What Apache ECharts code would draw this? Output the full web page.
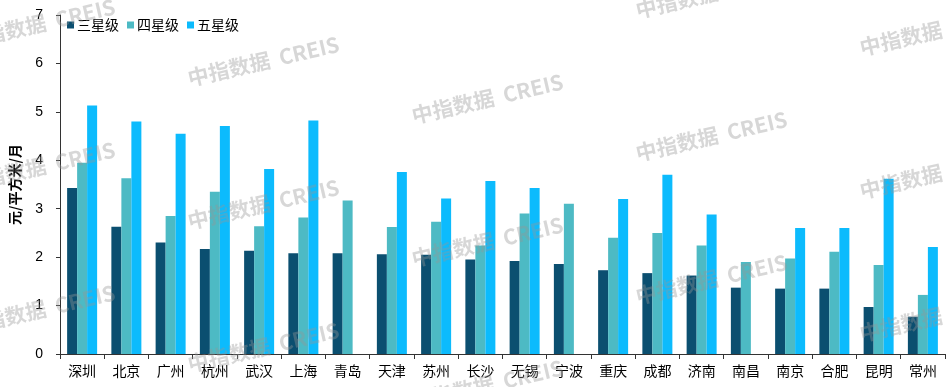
<!DOCTYPE html>
<html>
<head>
<meta charset="utf-8">
<script src="https://cdn.jsdelivr.net/npm/echarts@6/dist/echarts.min.js"></script>
<style>html,body{margin:0;padding:0;background:#fff;}#c{width:952px;height:387px;}</style>
</head>
<body>
<div id="c"></div>
<script>
var categories = ['深圳','北京','广州','杭州','武汉','上海','青岛','天津','苏州','长沙','无锡','宁波','重庆','成都','济南','南昌','南京','合肥','昆明','常州'];
var seriesNames = ['三星级','四星级','五星级'];
var threeStar = [3.43,2.63,2.30,2.17,2.13,2.08,2.08,2.06,2.05,1.95,1.92,1.86,1.73,1.67,1.62,1.37,1.35,1.35,0.97,0.77];
var fourStar  = [3.95,3.63,2.85,3.35,2.64,2.82,3.17,2.62,2.73,2.24,2.90,3.10,2.40,2.50,2.24,1.90,1.97,2.11,1.84,1.22];
var fiveStar  = [5.13,4.80,4.55,4.71,3.82,4.82,null,3.76,3.21,3.57,3.43,null,3.20,3.70,2.88,null,2.60,2.60,3.62,2.21];
var yTicks = [0,1,2,3,4,5,6,7];
var yName = '元/平方米/月';
var watermarkText = '中指数据  CREIS';

var colors = ['#0B4F70','#4DBAC4','#0CBBFD'];
var font = '"Liberation Sans", Arial, sans-serif';

// watermark grid (decoration)
var wm = [];
var angle = 13 * Math.PI / 180;
for (var c = 0; c < 5; c++) {
  for (var r = -1; r < 3; r++) {
    var x = -36 + c * 224;
    var y = 41 + c * 37.5 + r * 143;
    if (y < -40 || y > 430) continue;
    wm.push({
      type: 'text', x: x, y: y, rotation: angle, z: 100, silent: true,
      style: { text: watermarkText, fill: 'rgba(150,150,150,0.38)',
        font: 'bold 21px "Noto Sans CJK SC", "Noto Sans", sans-serif',
        textAlign: 'left', textVerticalAlign: 'middle' }
    });
  }
}

var chart = echarts.init(document.getElementById('c'), null, {renderer: 'canvas'});
var series = [threeStar, fourStar, fiveStar].map(function (d, i) {
  return {
    name: seriesNames[i], type: 'bar', data: d,
    barWidth: 10, barGap: '0%',
    itemStyle: { color: colors[i] }
  };
});
chart.setOption({
  animation: false,
  backgroundColor: '#fff',
  color: colors,
  graphic: wm,
  legend: {
    left: 62, top: 13,
    itemWidth: 7, itemHeight: 7, itemGap: 8,
    icon: 'rect',
    textStyle: { fontSize: 14, color: '#000', fontFamily: '"Noto Sans CJK SC", sans-serif', padding: [0,0,0,-2] },
    data: seriesNames
  },
  grid: { left: 57, right: 7, top: 15, bottom: 33, containLabel: false },
  xAxis: {
    type: 'category', data: categories,
    axisLine: { lineStyle: { color: '#333', width: 1 } },
    axisTick: { show: true, alignWithLabel: false, length: 5, lineStyle: { color: '#333' } },
    axisLabel: { color: '#000', fontSize: 14, margin: 10, interval: 0, fontFamily: '"Noto Sans CJK SC", sans-serif' }
  },
  yAxis: {
    type: 'value', min: 0, max: 7, interval: 1,
    name: yName, nameLocation: 'middle', nameRotate: 90, nameGap: 38,
    nameTextStyle: { fontSize: 14, fontWeight: 'bold', color: '#000', fontFamily: '"Noto Sans CJK SC", sans-serif' },
    axisLine: { show: true, lineStyle: { color: '#333', width: 1 } },
    axisTick: { show: true, length: 4, lineStyle: { color: '#333' } },
    splitLine: { show: false },
    axisLabel: { color: '#000', fontSize: 14, margin: 17, fontFamily: font,
      formatter: function (v) { return yTicks.indexOf(v) >= 0 ? String(v) : ''; } }
  },
  series: series
});
</script>
</body>
</html>
